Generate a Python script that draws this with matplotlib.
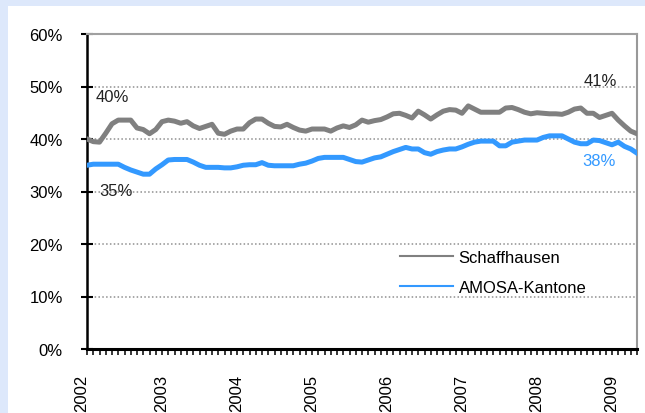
import matplotlib.pyplot as plt
import matplotlib.transforms as mtransforms
import numpy as np
from matplotlib.lines import Line2D
from matplotlib.patches import Rectangle

plt.rcParams['font.family'] = ['Liberation Sans', 'DejaVu Sans']

# Monatswerte Jan 2002 - Mai 2009 (in %)
schaffhausen = [40.0, 39.5, 39.4, 41.1, 42.9, 43.6, 43.6, 43.6, 42.1, 41.8,
                41.0, 41.8, 43.3, 43.6, 43.4, 43.0, 43.3, 42.5, 42.0, 42.4,
                42.8, 41.1, 40.9, 41.5, 41.9, 41.9, 43.1, 43.8, 43.8, 43.0,
                42.4, 42.3, 42.8, 42.2, 41.7, 41.5, 41.9, 41.9, 41.9, 41.5,
                42.1, 42.5, 42.2, 42.7, 43.6, 43.2, 43.5, 43.7, 44.2, 44.8,
                44.9, 44.5, 44.0, 45.3, 44.6, 43.8, 44.6, 45.3, 45.6, 45.5,
                44.9, 46.3, 45.7, 45.1, 45.1, 45.1, 45.1, 45.9, 46.0, 45.6,
                45.1, 44.8, 45.0, 44.9, 44.8, 44.8, 44.7, 45.1, 45.7, 45.9,
                44.9, 44.9, 44.1, 44.5, 44.9, 43.6, 42.5, 41.5, 41.0]
amosa = [35.0, 35.2, 35.2, 35.2, 35.2, 35.2, 34.6, 34.1, 33.7, 33.3,
         33.3, 34.3, 35.1, 36.0, 36.1, 36.1, 36.1, 35.6, 35.0, 34.6,
         34.6, 34.6, 34.5, 34.5, 34.7, 35.0, 35.1, 35.1, 35.5, 35.0,
         34.9, 34.9, 34.9, 34.9, 35.2, 35.4, 35.8, 36.3, 36.5, 36.5,
         36.5, 36.5, 36.1, 35.7, 35.6, 36.0, 36.4, 36.6, 37.1, 37.6,
         38.0, 38.4, 38.1, 38.1, 37.4, 37.1, 37.6, 37.9, 38.1, 38.1,
         38.5, 39.0, 39.4, 39.6, 39.6, 39.6, 38.7, 38.7, 39.4, 39.6,
         39.8, 39.8, 39.8, 40.3, 40.6, 40.6, 40.6, 40.0, 39.4, 39.1,
         39.1, 39.8, 39.7, 39.3, 38.9, 39.4, 38.6, 38.1, 37.3]
years = ['2002', '2003', '2004', '2005', '2006', '2007', '2008', '2009']
y_ticks = [0, 10, 20, 30, 40, 50, 60]

grau = '#808080'
blau = '#3399ff'

x = np.arange(len(schaffhausen))

fig = plt.figure(figsize=(6.45, 4.14), dpi=100)
fig.patch.set_facecolor('#dde8fb')
panel = Rectangle((8 / 645, 0), 1, 1 - 7 / 414, transform=fig.transFigure,
                  facecolor='white', edgecolor='none', zorder=-10)
fig.add_artist(panel)

ax = fig.add_axes([87 / 645, 1 - 350 / 414, 550 / 645, 315 / 414])
ax.set_facecolor('white')

ax.plot(x, schaffhausen, color=grau, lw=3.6, solid_joinstyle='round', zorder=3)
ax.plot(x, amosa, color=blau, lw=3.6, solid_joinstyle='round', zorder=3)

# Achsen
ax.set_xlim(0, len(x) - 1)
ax.set_ylim(0, 60)
ax.set_yticks(y_ticks)
ax.set_yticklabels([f'{v}%' for v in y_ticks], fontsize=12)
ax.set_xticks(np.arange(0, len(x), 12))
ax.set_xticklabels(years, rotation=90, fontsize=12)
ax.set_xticks(x, minor=True)

ax.tick_params(axis='y', direction='inout', length=8, width=1.5, pad=13.5, colors='black')
ax.tick_params(axis='x', which='both', direction='out', length=4, width=1.1, pad=14)

# erstes Jahreslabel etwas nach links (wie im Original)
first = ax.get_xticklabels()[0]
first.set_transform(first.get_transform() +
                    mtransforms.ScaledTranslation(-5 / 100, 0, fig.dpi_scale_trans))

for v in y_ticks[1:-1]:
    ax.axhline(v, color='#909090', lw=1.1, ls=(0, (1, 1.5)), zorder=1)

ax.spines['left'].set_linewidth(1.8)
ax.spines['bottom'].set_linewidth(2.2)
ax.spines['top'].set_color('#a0a0a0')
ax.spines['top'].set_linewidth(1.5)
ax.spines['right'].set_color('#999999')
ax.spines['right'].set_linewidth(1.5)

# Datenbeschriftungen
ax.text(1.44, 48.0, '40%', fontsize=12, ha='left', va='center', color='#222222')
ax.text(1.9, 30.15, '35%', fontsize=12, ha='left', va='center', color='#222222')
ax.text(79.4, 51.1, '41%', fontsize=12, ha='left', va='center', color='#222222')
ax.text(79.2, 35.9, '38%', fontsize=12, ha='left', va='center', color=blau)

handles = [Line2D([], [], color=grau, lw=1.5), Line2D([], [], color=blau, lw=1.5)]
fig.legend(handles, ['Schaffhausen', 'AMOSA-Kantone'], loc='center left',
           bbox_to_anchor=(400 / 645, 1 - 273.5 / 414), frameon=False, fontsize=12,
           handlelength=3.18, handletextpad=0.34, labelspacing=0.93,
           borderpad=0, borderaxespad=0)

fig.savefig('out.png', dpi=100, facecolor=fig.get_facecolor())
